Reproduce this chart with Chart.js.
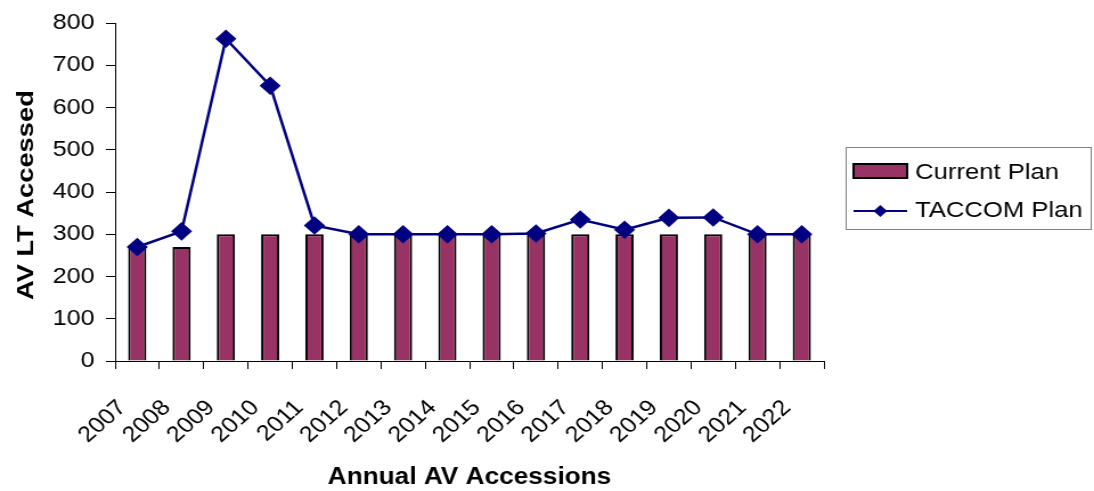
<!DOCTYPE html>
<html lang="en">
<head>
    <meta charset="UTF-8">
    <title>AV LT Accessed</title>
    <script src="https://cdn.jsdelivr.net/npm/chart.js"></script>
    <style>
        body { margin: 0; background: #fff; overflow: hidden; }
        /* the original picture has wide text, so stretch ours sideways a little */
        .wrap { width: 960px; height: 491px; transform: scaleX(1.1396); transform-origin: 0 0; }
    </style>
</head>
<body>
    <div class="wrap"><canvas id="chart"></canvas></div>

    <script>
        const years = ["2007", "2008", "2009", "2010", "2011", "2012", "2013", "2014",
                       "2015", "2016", "2017", "2018", "2019", "2020", "2021", "2022"];
        const currentPlan = [270, 270, 300, 300, 300, 300, 300, 300, 300, 300, 300, 300, 300, 300, 300, 300];
        const taccomPlan = [270, 307, 763, 652, 321, 300, 300, 300, 300, 302, 335, 311, 339, 340, 300, 300];
        const yTicks = [0, 100, 200, 300, 400, 500, 600, 700, 800];
        const yTitle = "AV LT Accessed";
        const xTitle = "Annual AV Accessions";

        const FONT = '"Liberation Sans", Arial, sans-serif';
        const plum = "#993366";
        const navy = "#000080";

        // legend with a grey frame, drawn to the right of the plot
        const boxLegend = {
            id: "boxLegend",
            afterDraw(chart) {
                const ctx = chart.ctx;
                const ds = chart.data.datasets;
                const left = chart.chartArea.right + 19;
                const top = 147;
                ctx.save();
                ctx.strokeStyle = "#808080";
                ctx.lineWidth = 1;
                ctx.strokeRect(left + 0.5, top + 0.5, 215, 82);

                // bar item
                ctx.fillStyle = ds[1].backgroundColor;
                ctx.fillRect(left + 7, top + 17, 47, 14);
                ctx.strokeStyle = "#000";
                ctx.lineWidth = 2;
                ctx.strokeRect(left + 7, top + 17, 47, 14);

                // line item
                const ly = top + 64;
                ctx.strokeStyle = ds[0].borderColor;
                ctx.lineWidth = 2;
                ctx.beginPath();
                ctx.moveTo(left + 7, ly);
                ctx.lineTo(left + 54, ly);
                ctx.stroke();
                const cx = left + 30.5, r = 6;
                ctx.fillStyle = ds[0].borderColor;
                ctx.beginPath();
                ctx.moveTo(cx - r, ly);
                ctx.lineTo(cx, ly - r);
                ctx.lineTo(cx + r, ly);
                ctx.lineTo(cx, ly + r);
                ctx.closePath();
                ctx.fill();

                ctx.fillStyle = "#000";
                ctx.font = "22.5px " + FONT;
                ctx.textBaseline = "middle";
                ctx.fillText(ds[1].label, left + 61, top + 26);
                ctx.fillText(ds[0].label, left + 61, ly);
                ctx.restore();
            }
        };

        // vertical axis title, stretched along its length like the original
        const sideTitle = {
            id: "sideTitle",
            afterDraw(chart) {
                const ctx = chart.ctx;
                const a = chart.chartArea;
                ctx.save();
                ctx.translate(29, (a.top + a.bottom) / 2 + 3);
                ctx.rotate(-Math.PI / 2);
                ctx.scale(1.3, 1);
                ctx.font = "bold 21px " + FONT;
                ctx.fillStyle = "#000";
                ctx.textAlign = "center";
                ctx.textBaseline = "alphabetic";
                ctx.fillText(yTitle, 0, 0);
                ctx.restore();
            }
        };

        new Chart(document.getElementById("chart"), {
            type: "bar",
            data: {
                labels: years,
                datasets: [
                    {
                        type: "line",
                        label: "TACCOM Plan",
                        data: taccomPlan,
                        borderColor: navy,
                        backgroundColor: navy,
                        borderWidth: 2.5,
                        pointStyle: "rectRot",
                        pointRadius: 7.5,
                        pointBackgroundColor: navy,
                        pointBorderColor: navy,
                        tension: 0,
                        order: 0
                    },
                    {
                        label: "Current Plan",
                        data: currentPlan,
                        backgroundColor: plum,
                        borderColor: "#000",
                        borderWidth: 2,
                        barPercentage: 0.41,
                        categoryPercentage: 1,
                        order: 1
                    }
                ]
            },
            options: {
                responsive: true,
                maintainAspectRatio: false,
                animation: false,
                layout: { padding: { left: 0, top: 20, right: 237, bottom: 0 } },
                plugins: {
                    legend: { display: false },
                    tooltip: { enabled: false }
                },
                scales: {
                    x: {
                        afterFit: (s) => { s.height = 130; },
                        grid: { drawOnChartArea: false, drawTicks: true, tickLength: 8, color: "#000", offset: true },
                        border: { color: "#000", width: 1 },
                        ticks: {
                            color: "#000",
                            font: { family: FONT, size: 22 },
                            maxRotation: 45,
                            minRotation: 45,
                            autoSkip: false,
                            padding: 26,
                            labelOffset: -13
                        },
                        title: {
                            display: true,
                            text: xTitle,
                            color: "#000",
                            font: { family: FONT, size: 23, weight: "bold" },
                            padding: { top: 0, bottom: 0 }
                        }
                    },
                    y: {
                        min: 0,
                        max: 800,
                        afterFit: (s) => { s.width = 101; },
                        afterBuildTicks: (s) => { s.ticks = yTicks.map(v => ({ value: v })); },
                        grid: { drawOnChartArea: false, drawTicks: true, tickLength: 8, color: "#000" },
                        border: { color: "#000", width: 1 },
                        ticks: {
                            color: "#000",
                            font: { family: FONT, size: 22 },
                            padding: 10
                        },
                        title: { display: false }
                    }
                }
            },
            plugins: [boxLegend, sideTitle]
        });
    </script>
</body>
</html>
